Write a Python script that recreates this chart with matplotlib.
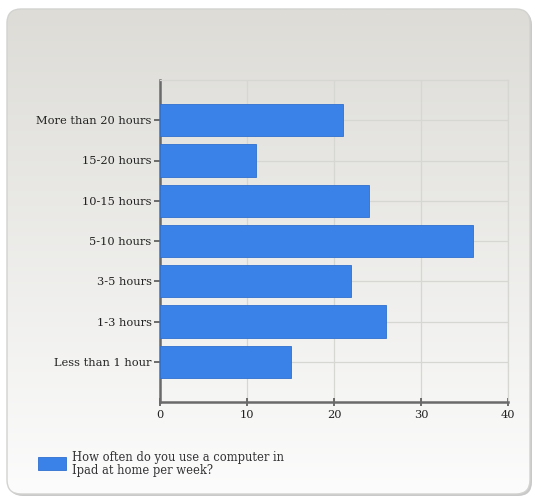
import numpy as np
import matplotlib
matplotlib.use("Agg")
import matplotlib.pyplot as plt
from matplotlib.patches import FancyBboxPatch, Rectangle

categories = ["Less than 1 hour", "1-3 hours", "3-5 hours", "5-10 hours",
              "10-15 hours", "15-20 hours", "More than 20 hours"]
counts = [15, 26, 22, 36, 24, 11, 21]
x_ticks = [0, 10, 20, 30, 40]
series_label = "How often do you use a computer in\nIpad at home per week?"

BAR_BLUE = "#3b82e8"
plt.rcParams["font.family"] = ["DejaVu Serif"]

fig = plt.figure(figsize=(5.4, 5.01), dpi=100)

# background panel with a grey-to-white vertical gradient and rounded corners
bg = fig.add_axes([0, 0, 1, 1])
bg.set_xlim(0, 540)
bg.set_ylim(501, 0)
bg.axis("off")
grad = np.linspace(0, 1, 256).reshape(-1, 1)
top = np.array([221, 220, 215]) / 255
bottom = np.array([252, 252, 252]) / 255
img = top + (bottom - top) * grad[..., None]
shadow = FancyBboxPatch((9, 11), 523, 485, boxstyle="round,pad=0,rounding_size=14",
                        facecolor="#a5a5a5", edgecolor="none", alpha=0.6, zorder=0)
panel = FancyBboxPatch((7, 9), 523, 485, boxstyle="round,pad=0,rounding_size=14",
                       facecolor="none", edgecolor="#d2d2d0", lw=1.0, zorder=2)
bg.add_patch(shadow)
im = bg.imshow(img, extent=(7, 530, 494, 9), aspect="auto", zorder=1)
bg.add_patch(panel)
im.set_clip_path(panel)

ax = fig.add_axes([160 / 540, 1 - 402 / 501, 348 / 540, 322 / 501])
ax.patch.set_alpha(0)
y = np.arange(len(categories))
ax.barh(y, counts, height=0.8, color=BAR_BLUE, edgecolor="#2f6fcf",
        linewidth=0.6, zorder=3)

ax.set_xlim(0, 40)
ax.set_ylim(-1, 7)
ax.set_xticks(x_ticks)
ax.set_yticks(y)
ax.set_yticklabels(categories)
ax.tick_params(axis="both", labelsize=8.2, colors="#555555", labelcolor="#222222",
               length=4, width=1.2, pad=2)
ax.tick_params(axis="x", direction="inout", length=6, pad=3)

ax.set_axisbelow(True)
ax.grid(True, color="#d6d6d2", linewidth=0.9)
for side in ("left", "bottom"):
    ax.spines[side].set_color("#6a6a6a")
    ax.spines[side].set_linewidth(1.8)
for side in ("top", "right"):
    ax.spines[side].set_color("#d6d6d2")
    ax.spines[side].set_linewidth(0.9)

# legend drawn as a swatch and two lines of text below the plot
bg.add_patch(Rectangle((38, 457), 28, 13, facecolor=BAR_BLUE,
                       edgecolor="#2f6fcf", lw=0.6, zorder=3))
bg.text(72, 451, series_label, fontsize=8.3, color="#333333",
        va="top", ha="left", linespacing=1.0, zorder=3)

fig.savefig("out.png", dpi=100)
